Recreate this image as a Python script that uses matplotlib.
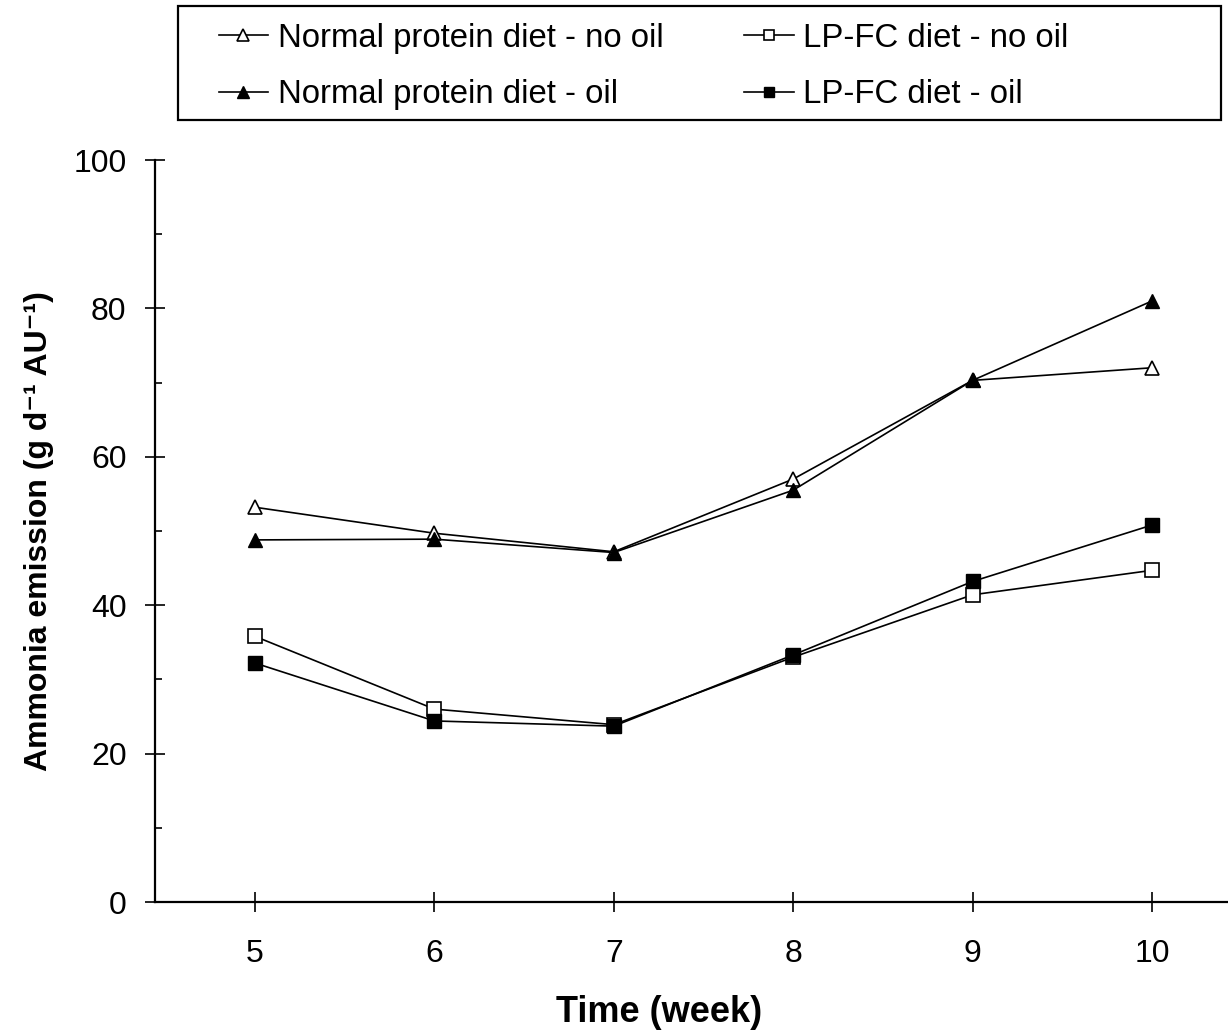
import matplotlib
matplotlib.use("Agg")
import matplotlib.pyplot as plt
from matplotlib.patches import Rectangle
from matplotlib.ticker import MultipleLocator

plt.rcParams['font.family'] = ['Liberation Sans', 'DejaVu Sans']

weeks = [5, 6, 7, 8, 9, 10]
normal_no_oil = [53.2, 49.7, 47.2, 57.0, 70.3, 72.0]
normal_oil = [48.8, 48.9, 47.1, 55.5, 70.3, 81.0]
lpfc_no_oil = [35.8, 26.0, 23.9, 33.0, 41.4, 44.7]
lpfc_oil = [32.2, 24.4, 23.7, 33.3, 43.2, 50.8]

labels = ["Normal protein diet - no oil", "LP-FC diet - no oil",
          "Normal protein diet - oil", "LP-FC diet - oil"]

W, H = 1228, 1031
fig = plt.figure(figsize=(W / 100, H / 100), dpi=100)
ax = fig.add_axes([155 / W, 1 - 902 / H, 1 - 155 / W, (902 - 160) / H])

lw = 1.2
h1, = ax.plot(weeks, normal_no_oil, color='black', lw=lw, marker='^', ms=10.5,
              mfc='white', mec='black', mew=1.2, label=labels[0])
h2, = ax.plot(weeks, normal_oil, color='black', lw=lw, marker='^', ms=10.5,
              mfc='black', mec='black', label=labels[2])
h3, = ax.plot(weeks, lpfc_no_oil, color='black', lw=lw, marker='s', ms=9.5,
              mfc='white', mec='black', mew=1.2, label=labels[1])
h4, = ax.plot(weeks, lpfc_oil, color='black', lw=lw, marker='s', ms=9.5,
              mfc='black', mec='black', label=labels[3])

ax.set_xlim(5 - 100 / 179.4, 5 + (W - 255) / 179.4)
ax.set_ylim(0, 100)
ax.set_xticks(weeks)
ax.yaxis.set_major_locator(MultipleLocator(20))
ax.yaxis.set_minor_locator(MultipleLocator(10))

for s in ['top', 'right']:
    ax.spines[s].set_visible(False)
for s in ['left', 'bottom']:
    ax.spines[s].set_linewidth(1.6)
ax.spines['left'].set_bounds(0, 100)

ax.tick_params(axis='y', which='major', direction='inout', length=15, width=1.2,
               labelsize=23, pad=13)
ax.tick_params(axis='y', which='minor', direction='in', length=5, width=1.2)
ax.tick_params(axis='x', which='major', direction='inout', length=14, width=1.2,
               labelsize=23, pad=20)

ax.set_xlabel("Time (week)", fontsize=26, fontweight='bold', labelpad=20)
ax.xaxis.set_label_coords((659 - 155) / (W - 155), -0.125)
ax.set_ylabel("Ammonia emission (g d\u207b\u00b9 AU\u207b\u00b9)",
              fontsize=23, fontweight='bold', labelpad=14)

# legend frame
fig.patches.append(Rectangle((178 / W, 1 - 120 / H), (1221 - 178) / W, (120 - 6) / H,
                             transform=fig.transFigure, fill=False,
                             edgecolor='black', linewidth=1.6))
leg = fig.legend([h1, h2, h3, h4], [labels[0], labels[2], labels[1], labels[3]],
                 ncol=2, loc='upper left', bbox_to_anchor=(212 / W, 1 - 16 / H),
                 frameon=False, fontsize=23.7, handlelength=1.5, handletextpad=0.3,
                 columnspacing=2.45, labelspacing=0.78, markerscale=0.8,
                 borderaxespad=0, borderpad=0.2)

fig.savefig("out.png", dpi=100)
